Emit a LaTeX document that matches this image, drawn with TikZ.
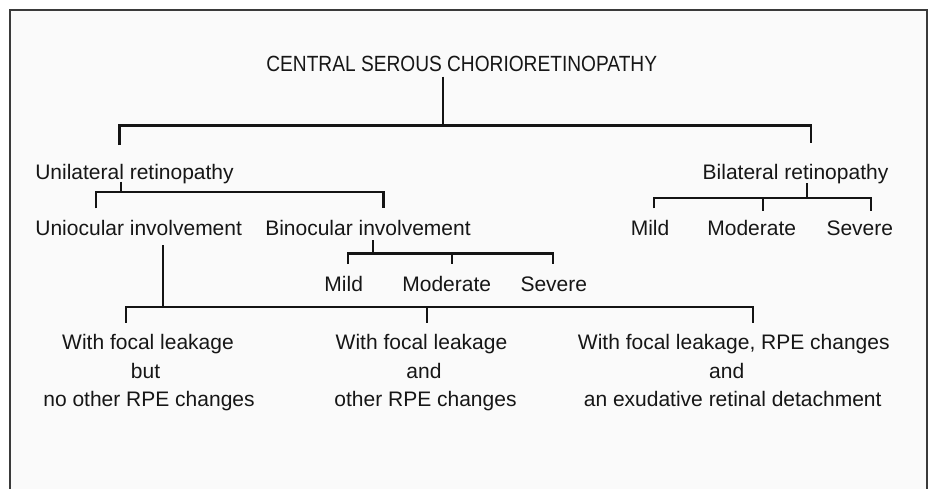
\documentclass[tikz,border=0pt]{standalone}
\usepackage{fontspec}
\setmainfont{Liberation Sans}
\newfontfamily\titlefont[FakeStretch=0.87]{Liberation Sans}
\definecolor{txt}{HTML}{161616}
\definecolor{framec}{HTML}{3A3A3A}
\definecolor{bgc}{HTML}{FAFAFA}
\begin{document}
\begin{tikzpicture}[x=1pt,y=-1pt,
  lbl/.style={anchor=base,inner sep=0pt,text=txt,font=\fontsize{21}{26}\selectfont},
  ttl/.style={anchor=base,inner sep=0pt,text=txt,font=\titlefont\fontsize{22}{26}\selectfont},
  conn/.style={line width=2.2pt,draw=black!92,line cap=butt,line join=miter}]
\useasboundingbox (0,0) rectangle (928,488);
\fill[white] (0,0) rectangle (928,488);
\fill[bgc] (10,9.5) rectangle (927,492);
\draw[framec,line width=2pt] (10,494) -- (10,9.5) -- (927,9.5) -- (927,494);

% texts
\node[ttl] (title) at (461.7,71.5) {CENTRAL SEROUS CHORIORETINOPATHY};
\node[lbl] (uni) at (134.5,179) {Unilateral retinopathy};
\node[lbl] (bil) at (795.5,179.3) {Bilateral retinopathy};
\node[lbl] (unioc) at (138.7,235.7) {Uniocular involvement};
\node[lbl] (binoc) at (368,235.5) {Binocular involvement};
\node[lbl] (rmild) at (650,235.7) {Mild};
\node[lbl] (rmod) at (751.7,235.7) {Moderate};
\node[lbl] (rsev) at (859.8,235.7) {Severe};
\node[lbl] (bmild) at (343.7,291.7) {Mild};
\node[lbl] (bmod) at (446.7,291.7) {Moderate};
\node[lbl] (bsev) at (553.8,291.7) {Severe};
\node[lbl] (l1) at (148,349.3) {With focal leakage};
\node[lbl] (l2) at (145.5,378) {but};
\node[lbl] (l3) at (149,406.7) {no other RPE changes};
\node[lbl] (m1) at (421.5,349.3) {With focal leakage};
\node[lbl] (m2) at (424,378) {and};
\node[lbl] (m3) at (425.5,406.7) {other RPE changes};
\node[lbl] (r1) at (733.8,349.3) {With focal leakage, RPE changes};
\node[lbl] (r2) at (726.7,378) {and};
\node[lbl] (r3) at (732.7,406.7) {an exudative retinal detachment};

% junction coordinates
\coordinate (t0) at (443.3,76.7);
\coordinate (bus1) at (443.3,125.5);
\coordinate (d1a) at (119.5,145);
\coordinate (d1b) at (810.7,143);

\coordinate (u0) at (120.7,181.7);
\coordinate (bus2) at (120.7,192.3);
\coordinate (d2a) at (95.7,208.3);
\coordinate (d2b) at (383.4,208.3);

\coordinate (b0) at (807.3,183.3);
\coordinate (bus3) at (807.3,198);
\coordinate (d3a) at (654,208.3);
\coordinate (d3b) at (763.3,210.7);
\coordinate (d3c) at (870.7,210.7);

\coordinate (n0) at (372.7,240);
\coordinate (bus4) at (372.7,253.5);
\coordinate (d4a) at (348.3,264);
\coordinate (d4b) at (452,264);
\coordinate (d4c) at (552.7,264);

\coordinate (o0) at (163.3,245);
\coordinate (bus5) at (163.3,307.3);
\coordinate (d5a) at (126,322.7);
\coordinate (d5b) at (426.7,322.7);
\coordinate (d5c) at (752.7,322.7);

% connectors
\draw[conn] (t0) -- (bus1);
\draw[conn] (d1a) -- (d1a |- bus1) -- (d1b |- bus1) -- (d1b);

\draw[conn] (u0) -- (bus2);
\draw[conn] (d2a) -- (d2a |- bus2) -- (d2b |- bus2) -- (d2b);

\draw[conn] (b0) -- (bus3);
\draw[conn] (d3a) -- (d3a |- bus3) -- (d3c |- bus3) -- (d3c);
\draw[conn] (d3b |- bus3) -- (d3b);

\draw[conn] (n0) -- (bus4);
\draw[conn] (d4a) -- (d4a |- bus4) -- (d4c |- bus4) -- (d4c);
\draw[conn] (d4b |- bus4) -- (d4b);

\draw[conn] (o0) -- (bus5);
\draw[conn] (d5a) -- (d5a |- bus5) -- (d5c |- bus5) -- (d5c);
\draw[conn] (d5b |- bus5) -- (d5b);
\end{tikzpicture}
\end{document}
